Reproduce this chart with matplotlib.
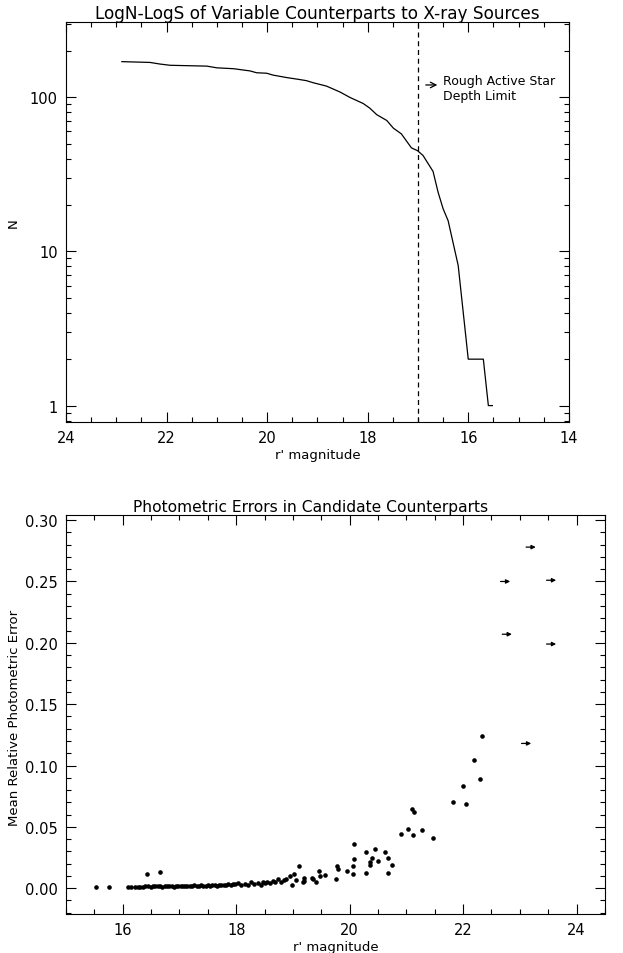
import matplotlib
matplotlib.use("Agg")
import matplotlib.pyplot as plt
from matplotlib.ticker import MultipleLocator, LogLocator, FixedLocator, NullFormatter, FormatStrFormatter

# top panel: cumulative counts vs r' magnitude
lognlogs_mag = [22.89, 22.33, 22.13, 21.93, 21.20, 21.00, 20.67, 20.34, 20.21, 20.01,
                19.88, 19.61, 19.41, 19.22, 19.08, 18.82, 18.55, 18.35, 18.09, 17.96,
                17.82, 17.62, 17.49, 17.33, 17.13, 17.01, 16.90, 16.70, 16.60, 16.50,
                16.40, 16.20, 16.00, 15.70, 15.60, 15.52]
lognlogs_n = [170, 168, 164, 161, 159, 155, 153, 148, 144, 143,
              139, 134, 131, 128, 124, 118, 108, 99.5, 91, 85,
              77, 70.6, 63, 57.8, 46.9, 45, 41.9, 33, 24.2, 18.9,
              15.8, 8.1, 2, 2, 1, 1]
depth_limit = 17.0

# bottom panel: photometric errors
phot_mag = [15.53, 15.75, 16.42, 16.66,
            16.10, 16.15, 16.21, 16.26, 16.31, 16.35, 16.40, 16.44, 16.49, 16.53,
            16.57, 16.62, 16.66, 16.70, 16.74, 16.78, 16.82, 16.86, 16.90, 16.94,
            16.98, 17.02, 17.06, 17.10, 17.14, 17.18, 17.22, 17.26, 17.30, 17.34,
            17.38, 17.42, 17.46, 17.50, 17.54, 17.58, 17.62, 17.66, 17.70, 17.74,
            17.78, 17.82, 17.86, 17.90, 17.94, 17.98, 18.03, 18.08, 18.15, 18.20,
            18.26, 18.31, 18.38, 18.43, 18.47, 18.51, 18.55, 18.60, 18.64, 18.69,
            18.73, 18.79, 18.84, 18.88, 18.94, 18.99, 19.02, 19.05, 19.11, 19.17,
            19.20, 19.19, 19.33, 19.35, 19.40, 19.46, 19.48, 19.57, 19.76, 19.78,
            19.79, 19.95, 20.05, 20.06, 20.08, 20.08, 20.29, 20.29, 20.35, 20.36,
            20.40, 20.44, 20.50, 20.63, 20.68, 20.68, 20.74, 20.90, 21.03, 21.10,
            21.13, 21.11, 21.27, 21.47, 21.82, 22.00, 22.05, 22.19, 22.30, 22.33]
phot_err = [0.001, 0.001, 0.0119, 0.013,
            0.001, 0.001, 0.001, 0.001, 0.0012, 0.001, 0.0015, 0.002, 0.0012, 0.0015,
            0.0018, 0.0014, 0.0016, 0.0012, 0.0018, 0.0015, 0.0017, 0.002, 0.0013, 0.0016,
            0.0019, 0.0015, 0.002, 0.0017, 0.0022, 0.0016, 0.0019, 0.0023, 0.0018, 0.0021,
            0.0025, 0.0019, 0.0022, 0.0026, 0.002, 0.0024, 0.0028, 0.0022, 0.0026, 0.003,
            0.0024, 0.0028, 0.0033, 0.0027, 0.0031, 0.0036, 0.0043, 0.003, 0.0035, 0.0028,
            0.005, 0.0038, 0.0043, 0.003, 0.0054, 0.004, 0.005, 0.0042, 0.0062, 0.0048,
            0.0076, 0.005, 0.0065, 0.0076, 0.0098, 0.0027, 0.0117, 0.007, 0.018, 0.005,
            0.0084, 0.0062, 0.0084, 0.0076, 0.0054, 0.0138, 0.0098, 0.0108, 0.0076, 0.0179,
            0.016, 0.0138, 0.0119, 0.0179, 0.0239, 0.0361, 0.0298, 0.0127, 0.0217, 0.0187,
            0.025, 0.032, 0.022, 0.0298, 0.025, 0.0127, 0.019, 0.0442, 0.0483, 0.0646,
            0.0624, 0.0432, 0.0472, 0.0412, 0.0706, 0.0836, 0.0684, 0.1048, 0.0888, 0.1243]
# sources only with lower limits (arrows)
limit_mag = [23.11, 22.66, 23.47, 22.69, 23.47, 23.03]
limit_err = [0.278, 0.250, 0.251, 0.207, 0.199, 0.118]
arrow_len = 0.17

plt.rcParams['font.family'] = ['DejaVu Sans']
plt.rcParams['axes.linewidth'] = 0.8

fig = plt.figure(figsize=(6.23, 9.54), dpi=100)

def idl_ticks(ax):
    ax.tick_params(which='both', direction='in', top=True, right=True,
                   width=0.8, labelsize=10.5, pad=6)
    ax.tick_params(which='major', length=7)
    ax.tick_params(which='minor', length=3.5)

# ---- top
ax1 = fig.add_axes([0.106, 0.557, 0.807, 0.4186])
ax1.plot(lognlogs_mag, lognlogs_n, color='black', lw=0.9)
ax1.axvline(depth_limit, color='black', lw=0.9, ls=(0, (4, 3)))
ax1.set_yscale('log')
ax1.set_xlim(24, 14)
ax1.set_ylim(0.787, 306)
ax1.xaxis.set_major_locator(MultipleLocator(2))
ax1.xaxis.set_minor_locator(MultipleLocator(0.5))
ax1.yaxis.set_major_locator(FixedLocator([1, 10, 100]))
ax1.yaxis.set_major_formatter(FormatStrFormatter('%d'))
ax1.yaxis.set_minor_locator(LogLocator(base=10, subs=range(2, 10)))
ax1.yaxis.set_minor_formatter(NullFormatter())
idl_ticks(ax1)
ax1.set_title('LogN-LogS of Variable Counterparts to X-ray Sources', fontsize=12.2, pad=3)
ax1.set_xlabel("r' magnitude", fontsize=9.5, labelpad=2)
ax1.set_ylabel('N', fontsize=9.5)
ax1.yaxis.set_label_coords(-0.0915, 0.5)
ax1.annotate('', xy=(16.56, 120), xytext=(16.9, 120),
             arrowprops=dict(arrowstyle='->', color='black', lw=0.9))
ax1.text(16.5, 142, 'Rough Active Star\nDepth Limit', fontsize=9, va='top', ha='left')

# ---- bottom
ax2 = fig.add_axes([0.106, 0.0409, 0.865, 0.418])
ax2.plot(phot_mag, phot_err, 'o', color='black', ms=3.3, mew=0)
for m, e in zip(limit_mag, limit_err):
    ax2.annotate('', xy=(m + arrow_len, e), xytext=(m, e),
                 arrowprops=dict(arrowstyle='-|>', color='black', lw=0.9,
                                 mutation_scale=6, shrinkA=0, shrinkB=0))
ax2.set_xlim(15, 24.5)
ax2.set_ylim(-0.021, 0.304)
ax2.xaxis.set_major_locator(MultipleLocator(2))
ax2.xaxis.set_minor_locator(MultipleLocator(0.5))
ax2.yaxis.set_major_locator(MultipleLocator(0.05))
ax2.yaxis.set_minor_locator(MultipleLocator(0.01))
ax2.yaxis.set_major_formatter(FormatStrFormatter('%.2f'))
idl_ticks(ax2)
ax2.set_title('Photometric Errors in Candidate Counterparts', fontsize=11.2, pad=3, x=0.453)
ax2.set_xlabel("r' magnitude", fontsize=9.5, labelpad=2)
ax2.set_ylabel('Mean Relative Photometric Error', fontsize=9.5)
ax2.yaxis.set_label_coords(-0.0844, 0.495)

fig.savefig('out.png', dpi=100)
